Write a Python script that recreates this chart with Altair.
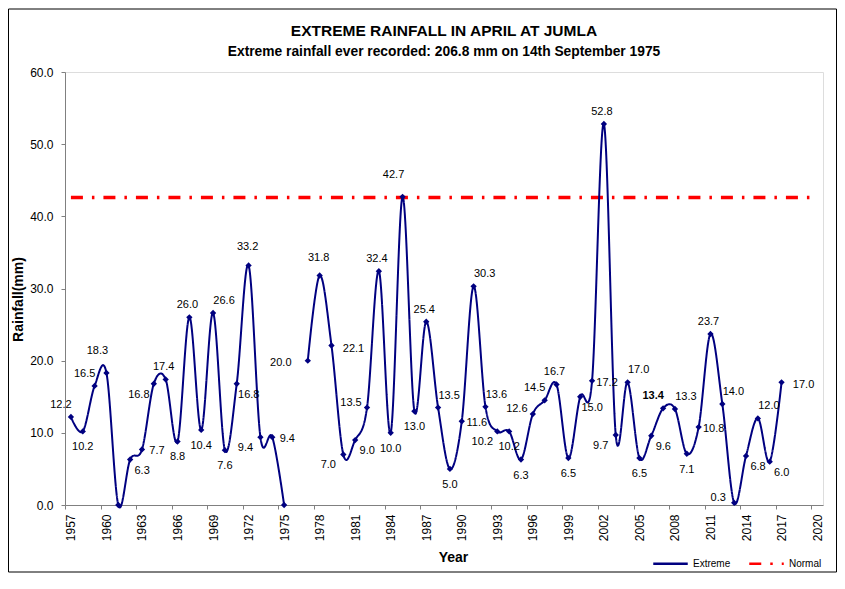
import altair as alt
import pandas as pd

# ---------------- data ----------------
years = list(range(1957, 1976)) + list(range(1977, 2018))
rainfall = [
    12.2, 10.2, 16.5, 18.3, 0.0, 6.3, 7.7, 16.8, 17.4, 8.8,
    26.0, 10.4, 26.6, 7.6, 16.8, 33.2, 9.4, 9.4, 0.0,
    20.0, 31.8, 22.1, 7.0, 9.0, 13.5, 32.4, 10.0, 42.7, 13.0,
    25.4, 13.5, 5.0, 11.6, 30.3, 13.6, 10.2, 10.2, 6.3, 12.6,
    14.5, 16.7, 6.5, 15.0, 17.2, 52.8, 9.7, 17.0, 6.5, 9.6,
    13.4, 13.3, 7.1, 10.8, 23.7, 14.0, 0.3, 6.8, 12.0, 6.0, 17.0,
]
# where each data label sits around its point (Excel's placements); "-" = no label
label_place = [
    "NW", "S", "NW", "NNW", "-", "SE", "E", "SW", "N", "S",
    "N", "S", "NE", "S", "SE", "NN", "SW", "E", "-",
    "WW", "NN", "EE", "SW", "SE", "W", "N", "S", "NNW", "S",
    "N", "NE", "S", "E", "NE", "NE", "SW", "S", "S", "W",
    "NW", "N", "S", "SE", "E", "N", "SW", "NE", "S", "SE",
    "NW", "NE", "S", "E", "N", "NE", "W", "SE", "NE", "SE", "EE",
]
bold_label_years = [2007]
last_year_before_gap = 1975
normal_value = 42.6
normal_years = [1957, 2020]
x_tick_years = list(range(1957, 2021, 3))
y_tick_values = [0, 10, 20, 30, 40, 50, 60]

title_text = "EXTREME RAINFALL IN APRIL AT JUMLA"
subtitle_text = "Extreme rainfall ever recorded: 206.8 mm on 14th September 1975"
series_names = ["Extreme", "Normal"]

# ---------------- styling ----------------
FONT = "Liberation Sans"
NAVY = "#000080"
RED = "#FF0000"
AXIS_GREY = "#808080"
W, H = 758, 433
PAD = {"left": 57, "top": 64, "right": 14, "bottom": 68}
year_px = W / 64.0

offsets = {
    "N": (-2, -12), "NN": (-1, -18), "NE": (11, -12), "NW": (-10, -12),
    "NNW": (-9, -22), "S": (0, 16), "SE": (12, 11), "SW": (-15, 11),
    "E": (15, 2), "EE": (22, 3), "W": (-16, -5), "WW": (-27, 2),
}

df = pd.DataFrame({"year": years, "value": rainfall, "place": label_place})
df["series"] = "Extreme"
df["segment"] = ["a" if y <= last_year_before_gap else "b" for y in years]
df["label"] = [f"{v:.1f}" for v in rainfall]
df["bold"] = df["year"].isin(bold_label_years)

normal_df = pd.DataFrame({
    "year": normal_years,
    "value": [normal_value] * len(normal_years),
    "series": ["Normal"] * len(normal_years),
})

x_axis = alt.Axis(
    values=x_tick_years, format="d", labelAngle=270, labelAlign="right",
    labelBaseline="middle", labelFont=FONT, labelFontSize=12, labelColor="black",
    labelPadding=5, tickOffset=-year_px / 2, labelOffset=year_px / 2,
    tickSize=4, tickColor=AXIS_GREY, domainColor=AXIS_GREY, grid=False,
    labelOverlap=False, labelFlush=False,
    title="Year", titleFont=FONT, titleFontSize=14, titleFontWeight="bold",
    titleColor="black", titleX=388, titleY=52, titleBaseline="middle",
)
y_axis = alt.Axis(
    values=y_tick_values, format=".1f", labelFont=FONT, labelFontSize=12,
    labelColor="black", labelPadding=8, tickSize=4, tickColor=AXIS_GREY,
    domainColor=AXIS_GREY, grid=False,
    title="Rainfall(mm)", titleFont=FONT, titleFontSize=14, titleFontWeight="bold",
    titleColor="black", titleX=-47, titleY=227, titleBaseline="middle",
)

x_enc = alt.X("year:Q", scale=alt.Scale(domain=[1956.5, 2020.5], nice=False, zero=False), axis=x_axis)
y_enc = alt.Y("value:Q", scale=alt.Scale(domain=[0, 60], nice=False, zero=True), axis=y_axis)

legend = alt.Legend(
    title=None, orient="none", legendX=587, legendY=473, direction="horizontal",
    symbolType="stroke", symbolSize=1190, symbolStrokeWidth=2.5,
    labelFont=FONT, labelFontSize=10, labelColor="black", labelOffset=4,
    columnPadding=13, padding=0,
)
color_enc = alt.Color("series:N", scale=alt.Scale(domain=series_names, range=[NAVY, RED]), legend=legend)
dash_enc = alt.StrokeDash("series:N", scale=alt.Scale(domain=series_names, range=[[1, 0], [12, 9, 2.5, 9]]), legend=legend)

extreme_line = alt.Chart(df).mark_line(interpolate="cardinal", tension=0, strokeWidth=2).encode(
    x=x_enc, y=y_enc, color=color_enc, strokeDash=dash_enc, detail="segment:N"
)
normal_line = alt.Chart(normal_df).mark_line(strokeWidth=3.5).encode(
    x=x_enc, y=y_enc, color=color_enc, strokeDash=dash_enc
)
points = alt.Chart(df).mark_point(shape="diamond", filled=True, size=40, color=NAVY, opacity=1).encode(
    x=x_enc, y=y_enc
)

label_layers = []
for code, (dx, dy) in offsets.items():
    for bold in (False, True):
        sub = df[(df["place"] == code) & (df["bold"] == bold)]
        if len(sub) == 0:
            continue
        label_layers.append(
            alt.Chart(sub).mark_text(
                dx=dx, dy=dy, font=FONT, fontSize=11, color="black",
                fontWeight="bold" if bold else "normal",
                align="center", baseline="middle",
            ).encode(x=x_enc, y=y_enc, text="label:N")
        )

total_w = W + PAD["left"] + PAD["right"]
total_h = H + PAD["top"] + PAD["bottom"]
frame = alt.Chart(pd.DataFrame({"f": [0]})).mark_rect(
    fillOpacity=0, stroke="black", strokeWidth=1
).encode(
    x=alt.value(-PAD["left"] + 0.5), x2=alt.value(total_w - PAD["left"] - 0.5),
    y=alt.value(-PAD["top"] + 1), y2=alt.value(total_h - PAD["top"] - 1),
)

chart = alt.layer(
    frame, normal_line, extreme_line, points, *label_layers
).properties(
    width=W, height=H,
    autosize=alt.AutoSizeParams(type="none"),
    padding=PAD,
    title=alt.TitleParams(
        text=title_text, subtitle=subtitle_text, anchor="middle",
        font=FONT, fontSize=15.5, fontWeight="bold", color="black",
        subtitleFont=FONT, subtitleFontSize=13.8, subtitleFontWeight="bold",
        subtitleColor="black", subtitlePadding=5, offset=-50,
    ),
).configure_view(stroke=None).configure(background="white")

chart.save("out.html", embed_options={"renderer": "svg", "actions": False})
